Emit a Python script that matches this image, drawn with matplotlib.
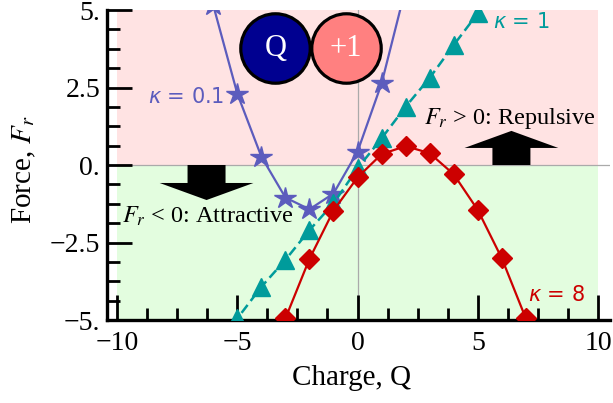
import matplotlib.pyplot as plt
import numpy as np
from matplotlib.patches import Rectangle, FancyArrow
from matplotlib.ticker import MultipleLocator, FixedLocator

# charge values and the force read at each marker
q_k01 = [-7, -6, -5, -4, -3, -2, -1, 0, 1, 2]
f_k01 = [9.0, 5.15, 2.3, 0.27, -1.05, -1.43, -0.92, 0.43, 2.63, 5.7]

q_k1 = [-6, -5, -4, -3, -2, -1, 0, 1, 2, 3, 4, 5, 6]
f_k1 = [-5.9, -4.95, -3.93, -3.06, -2.1, -1.24, -0.11, 0.86, 1.88, 2.81, 3.87, 4.89, 5.9]

q_k8 = [-4, -3, -2, -1, 0, 1, 2, 3, 4, 5, 6, 7, 8]
f_k8 = [-7.2, -4.95, -3.03, -1.47, -0.4, 0.35, 0.61, 0.38, -0.3, -1.45, -3.01, -4.95, -7.2]

y_ticks = [-5, -2.5, 0, 2.5, 5]
y_labels = ["\u22125.", "\u22122.5", "0.", "2.5", "5."]
x_ticks = [-10, -5, 0, 5, 10]
x_labels = ["\u221210", "\u22125", "0", "5", "10"]

purple = "#5c5cbd"
teal = "#009b9b"
red = "#cc0000"

plt.rcParams["font.family"] = ["Liberation Serif", "DejaVu Serif"]
plt.rcParams["mathtext.fontset"] = "stix"

fig = plt.figure(figsize=(6.13, 4.03), dpi=100)
ax = fig.add_axes([107 / 613, 1 - 320 / 403, 503 / 613, 310 / 403])
ax.set_xlim(-10.42, 10.5)
ax.set_ylim(-5, 5)

# repulsive / attractive regions
ax.add_patch(Rectangle((-10, 0), 20, 5, color="#ffe3e3", lw=0, zorder=0))
ax.add_patch(Rectangle((-10, -5), 20, 5, color="#e3fddf", lw=0, zorder=0))
ax.axhline(0, color="#aaaaaa", lw=0.9, zorder=1)
ax.axvline(0, color="#aaaaaa", lw=0.9, zorder=1)

ax.plot(q_k01, f_k01, color=purple, lw=1.6, marker="*", ms=16, zorder=3)
ax.plot(q_k1, f_k1, color=teal, lw=1.8, ls=(0, (4, 2)), marker="^", ms=12.5, zorder=3)
ax.plot(q_k8, f_k8, color=red, lw=1.6, marker="D", ms=10.5, zorder=3)

kappa_style = dict(fontsize=15, family="DejaVu Sans", math_fontfamily="dejavusans", va="center")
ax.text(-5.55, 2.2, r"$\kappa$ = 0.1", color=purple, ha="right", **kappa_style)
ax.text(5.65, 4.6, r"$\kappa$ = 1", color=teal, ha="left", **kappa_style)
ax.text(7.1, -4.2, r"$\kappa$ = 8", color=red, ha="left", **kappa_style)

ax.text(-9.8, -1.67, r"$F_r$ < 0: Attractive", fontsize=17.5, ha="left", va="center")
ax.text(2.75, 1.5, r"$F_r$ > 0: Repulsive", fontsize=17.5, ha="left", va="center")

# direction arrows
ax.add_patch(FancyArrow(-6.28, 0, 0, -1.13, width=1.58, head_width=3.9,
                        head_length=0.55, length_includes_head=True,
                        color="black", lw=0, zorder=2))
ax.add_patch(FancyArrow(6.4, 0, 0, 1.10, width=1.58, head_width=3.9,
                        head_length=0.55, length_includes_head=True,
                        color="black", lw=0, zorder=2))

# the two charges
ax.scatter([-3.42], [3.77], s=2500, color="#000090", edgecolors="black",
           linewidths=2.3, zorder=4)
ax.scatter([-0.5], [3.77], s=2500, color="#ff8080", edgecolors="black",
           linewidths=2.3, zorder=4)
ax.text(-3.42, 3.77, "Q", color="white", fontsize=22, ha="center", va="center", zorder=5)
ax.text(-0.5, 3.77, "+1", color="white", fontsize=22, ha="center", va="center", zorder=5)

for side in ["top", "right"]:
    ax.spines[side].set_visible(False)
for side in ["left", "bottom"]:
    ax.spines[side].set_linewidth(2.4)

ax.xaxis.set_major_locator(FixedLocator(x_ticks))
ax.set_xticklabels(x_labels)
ax.yaxis.set_major_locator(FixedLocator(y_ticks))
ax.set_yticklabels(y_labels)
ax.xaxis.set_minor_locator(MultipleLocator(1.25))
ax.yaxis.set_minor_locator(MultipleLocator(0.625))
ax.tick_params(which="major", direction="in", length=18, width=2, labelsize=20)
ax.tick_params(which="minor", direction="in", length=9, width=2)
ax.tick_params(axis="x", which="major", pad=8)
ax.tick_params(axis="y", which="major", pad=5)

ax.set_xlabel("Charge, Q", fontsize=21)
ax.set_ylabel(r"Force, $F_r$", fontsize=21)
ax.xaxis.set_label_coords(0.487, -0.145)
ax.yaxis.set_label_coords(-0.137, 0.484)

fig.savefig("out.png", dpi=100)
